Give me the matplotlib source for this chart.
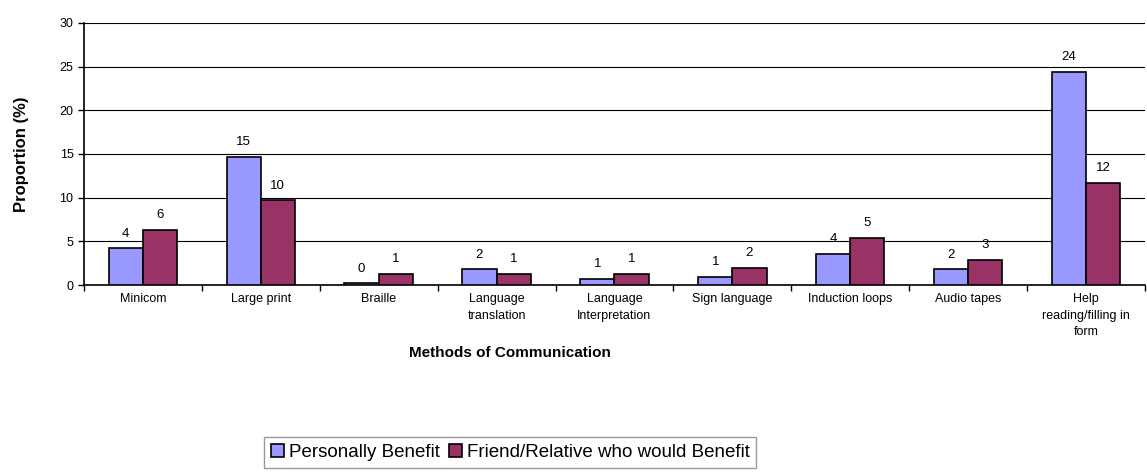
import numpy as np
import matplotlib.pyplot as plt

plt.rcParams['font.family'] = ['Liberation Sans', 'DejaVu Sans']

categories = ["Minicom", "Large print", "Braille", "Language\ntranslation",
              "Language\nInterpretation", "Sign language", "Induction loops",
              "Audio tapes", "Help\nreading/filling in\nform"]
personal = [4.2, 14.7, 0.2, 1.8, 0.7, 0.95, 3.55, 1.8, 24.4]
friend = [6.3, 9.7, 1.3, 1.3, 1.3, 2.0, 5.4, 2.9, 11.7]
personal_lbl = [4, 15, 0, 2, 1, 1, 4, 2, 24]
friend_lbl = [6, 10, 1, 1, 1, 2, 5, 3, 12]

fig = plt.figure(figsize=(11.47, 4.75), dpi=100)
ax = fig.add_axes([0.0732, 0.4, 0.925, 0.5516])

x = np.arange(len(categories))
w = 0.29
b1 = ax.bar(x - w/2, personal, w, color='#9999FF', edgecolor='black', linewidth=1.2,
            label='Personally Benefit', zorder=3)
b2 = ax.bar(x + w/2, friend, w, color='#993366', edgecolor='black', linewidth=1.2,
            label='Friend/Relative who would Benefit', zorder=3)

for i in range(len(x)):
    ax.text(x[i] - w/2, personal[i] + 1.0, str(personal_lbl[i]), ha='center', va='bottom', fontsize=9.5)
    ax.text(x[i] + w/2, friend[i] + 1.0, str(friend_lbl[i]), ha='center', va='bottom', fontsize=9.5)

ax.set_xlim(-0.5, len(categories) - 0.5)
ax.set_ylim(0, 30)
ax.set_yticks(range(0, 31, 5))
ax.yaxis.grid(True, color='black', linewidth=0.8, zorder=0)
ax.set_axisbelow(True)

ax.set_xticks(x)
ax.set_xticklabels(categories, fontsize=9, linespacing=1.5)
ax.tick_params(axis='x', length=0, pad=6)
ax.set_xticks(np.arange(-0.5, len(categories), 1.0), minor=True)
ax.tick_params(axis='x', which='minor', length=4, width=1)
ax.tick_params(axis='y', labelsize=9, length=4, width=1)

for s in ['top', 'right']:
    ax.spines[s].set_visible(False)
ax.spines['left'].set_linewidth(1.2)
ax.spines['bottom'].set_linewidth(1.2)

ax.set_ylabel('Proportion (%)', fontsize=12, fontweight='bold')
ax.yaxis.set_label_coords(-0.052, 0.5)
fig.text(0.445, 0.256, 'Methods of Communication', ha='center', va='center',
         fontsize=11, fontweight='bold')

leg = fig.legend(handles=[b1, b2], loc='upper center', bbox_to_anchor=(0.445, 0.079),
                 ncol=2, fontsize=13.5, frameon=True, fancybox=False,
                 handlelength=0.7, handleheight=0.7, handletextpad=0.25,
                 columnspacing=0.5, borderpad=0.35, borderaxespad=0)
leg.get_frame().set_edgecolor('#808080')
leg.get_frame().set_linewidth(1.0)

plt.savefig('out.png', dpi=100)
